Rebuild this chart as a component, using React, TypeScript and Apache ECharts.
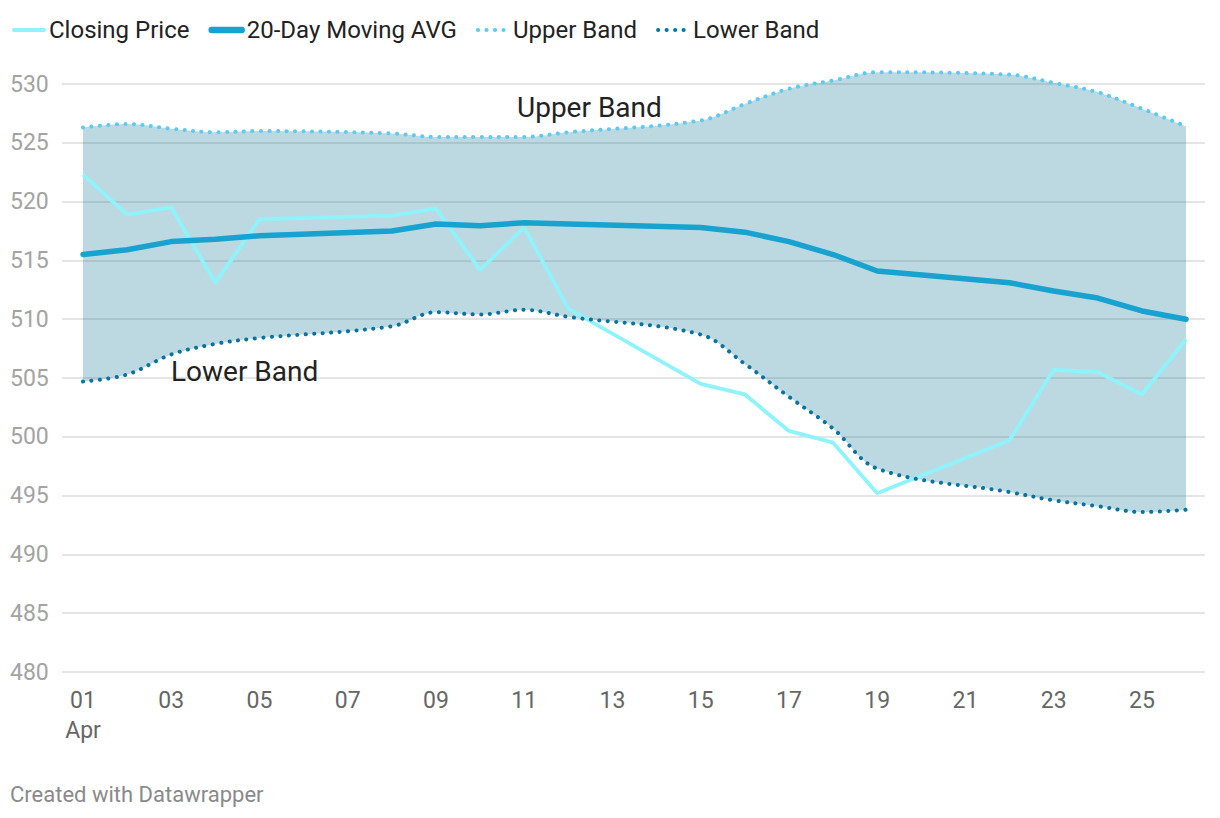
import React, { useEffect, useRef } from "react";
import * as echarts from "echarts";

const days = [1, 2, 3, 4, 5, 8, 9, 10, 11, 12, 15, 16, 17, 18, 19, 22, 23, 24, 25, 26];
const closingPrice = [522.3, 518.9, 519.5, 513.1, 518.5, 518.8, 519.4, 514.2, 517.8, 510.9, 504.5, 503.6, 500.5, 499.5, 495.2, 499.7, 505.7, 505.5, 503.6, 508.3];
const movingAvg = [515.5, 515.9, 516.6, 516.8, 517.1, 517.5, 518.1, 517.95, 518.2, 518.1, 517.8, 517.4, 516.6, 515.5, 514.1, 513.1, 512.4, 511.8, 510.7, 510.0];
const upperBand = [526.3, 526.6, 526.2, 525.9, 526.0, 525.8, 525.5, 525.5, 525.5, 525.9, 526.9, 528.3, 529.6, 530.3, 531.0, 530.8, 530.1, 529.3, 527.9, 526.4];
const lowerBand = [504.7, 505.3, 507.0, 507.9, 508.4, 509.4, 510.6, 510.4, 510.8, 510.2, 508.7, 506.2, 503.4, 500.7, 497.3, 495.3, 494.6, 494.1, 493.6, 493.8];
const xTickDays = [1, 3, 5, 7, 9, 11, 13, 15, 17, 19, 21, 23, 25];
const yTicks = { min: 480, max: 530, step: 5 };

const FONT = "Roboto, 'Noto Sans', sans-serif";

export default function App() {
  const ref = useRef<HTMLDivElement>(null);

  useEffect(() => {
    if (!ref.current) return;
    const chart = echarts.init(ref.current, undefined, { renderer: "svg" });
    const pair = (vals: number[]) => days.map((d, i) => [d, vals[i]]);
    // value first, day second, so that stacking applies to the value dimension
    const baseRows = days.map((d, i) => [lowerBand[i], d]);
    const diffRows = days.map((d, i) => [+(upperBand[i] - lowerBand[i]).toFixed(2), d]);
    const dotted = [0.1, 8.4];

    chart.setOption({
      animation: false,
      backgroundColor: "#ffffff",
      textStyle: { fontFamily: FONT },
      legend: {
        left: 7,
        top: 13,
        itemWidth: 30,
        itemHeight: 22,
        itemGap: 19,
        itemStyle: { opacity: 0 },
        data: [
          { name: "Closing Price", lineStyle: { width: 4, cap: "round" } },
          { name: "20-Day Moving AVG", lineStyle: { width: 6.5, cap: "round" } },
          { name: "Upper Band", lineStyle: { width: 4, cap: "round" } },
          { name: "Lower Band", lineStyle: { width: 4, cap: "round" } },
        ],
        textStyle: { fontSize: 24, color: "#222222", fontFamily: FONT },
        selectedMode: false,
      },
      grid: { left: 62, right: 15, top: 84, bottom: 146, containLabel: false },
      xAxis: {
        type: "value",
        min: 1 - 0.476,
        max: 26.43,
        axisLine: { show: false },
        axisTick: { show: false },
        splitLine: { show: false },
        axisLabel: {
          customValues: xTickDays,
          margin: 13,
          fontSize: 23,
          lineHeight: 30,
          color: "#666666",
          fontFamily: FONT,
          formatter: (v: number) => {
            const s = String(Math.round(v)).padStart(2, "0");
            return Math.round(v) === 1 ? s + "\nApr" : s;
          },
        },
      },
      yAxis: {
        type: "value",
        min: yTicks.min,
        max: yTicks.max,
        interval: yTicks.step,
        axisLine: { show: false },
        axisTick: { show: false },
        splitLine: { show: true, lineStyle: { color: "#e5e5e5", width: 2 } },
        axisLabel: {
          align: "left",
          margin: 52,
          fontSize: 23,
          color: "#a3a3a3",
          fontFamily: FONT,
        },
      },
      series: [
        {
          name: "bandBase",
          type: "line",
          data: baseRows,
          encode: { x: 1, y: 0 },
          stack: "band",
          smooth: 0.35,
          symbol: "none",
          silent: true,
          clip: false,
          lineStyle: { opacity: 0 },
          z: 1,
        },
        {
          name: "bandFill",
          type: "line",
          data: diffRows,
          encode: { x: 1, y: 0 },
          stack: "band",
          smooth: 0.35,
          symbol: "none",
          silent: true,
          clip: false,
          lineStyle: { opacity: 0 },
          areaStyle: { color: "rgba(16,119,151,0.28)", opacity: 1 },
          z: 1,
        },
        {
          name: "Closing Price",
          type: "line",
          data: pair(closingPrice),
          symbol: "none",
          clip: false,
          color: "#8ef3fb",
          lineStyle: { color: "#8ef3fb", width: 3.8 },
          z: 3,
        },
        {
          name: "20-Day Moving AVG",
          type: "line",
          data: pair(movingAvg),
          symbol: "none",
          clip: false,
          color: "#17a2cf",
          lineStyle: { color: "#17a2cf", width: 5.5, cap: "round", join: "round" },
          z: 4,
        },
        {
          name: "Upper Band",
          type: "line",
          data: pair(upperBand),
          smooth: 0.35,
          symbol: "none",
          clip: false,
          color: "#5ccbf2",
          lineStyle: { color: "#5ccbf2", width: 4, type: dotted, cap: "round" },
          z: 5,
        },
        {
          name: "Lower Band",
          type: "line",
          data: pair(lowerBand),
          smooth: 0.35,
          symbol: "none",
          clip: false,
          color: "#0873a0",
          lineStyle: { color: "#0873a0", width: 4, type: dotted, cap: "round" },
          z: 5,
        },
      ],
      graphic: [
        {
          type: "text",
          left: 517,
          top: 93,
          style: { text: "Upper Band", font: `28px ${FONT}`, fill: "#222222" },
          z: 10,
        },
        {
          type: "text",
          left: 171,
          top: 357,
          style: { text: "Lower Band", font: `28px ${FONT}`, fill: "#222222" },
          z: 10,
        },
        {
          type: "text",
          left: 10,
          top: 783,
          style: { text: "Created with Datawrapper", font: `22px ${FONT}`, fill: "#8a8a8a" },
          z: 10,
        },
      ],
    });

    return () => chart.dispose();
  }, []);

  return (
    <div
      ref={ref}
      style={{ position: "absolute", left: 0, top: 0, width: 1220, height: 818 }}
    />
  );
}
